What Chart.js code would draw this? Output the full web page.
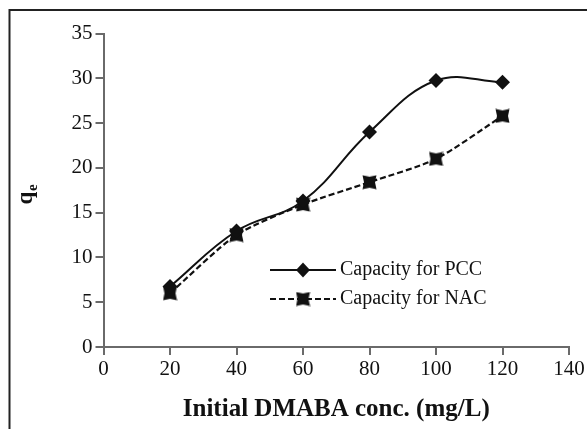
<!DOCTYPE html>
<html>
<head>
<meta charset="utf-8">
<script src="https://cdn.jsdelivr.net/npm/chart.js@4.4.1/dist/chart.umd.min.js"></script>
<style>
  html, body { margin: 0; padding: 0; background: #fff; }
  #wrap { position: relative; width: 587px; height: 429px; }
</style>
</head>
<body>
<div id="wrap"><canvas id="c"></canvas></div>
<script>
// ---- data ----
const concentrations = [20, 40, 60, 80, 100, 120];
const pccCapacity = [6.75, 12.95, 16.3, 24.0, 29.75, 29.55];
const nacCapacity = [6.0, 12.5, 15.9, 18.4, 21.0, 25.8];
const seriesNames = ['Capacity for PCC', 'Capacity for NAC'];
const xTitle = 'Initial DMABA conc. (mg/L)';
const yTitleMain = 'q';
const yTitleSub = 'e';

const serif = "'Liberation Serif', 'Times New Roman', serif";
const ink = '#111';
const axisGray = '#6a6a6a';

// bowtie-like square marker for NAC
function makeNacMarker(size) {
  const cv = document.createElement('canvas');
  cv.width = size; cv.height = size;
  const g = cv.getContext('2d');
  const s = size, n = 2;
  g.fillStyle = ink;
  g.beginPath();
  g.moveTo(0.5, 0.5);
  g.lineTo(s / 2, n);
  g.lineTo(s - 0.5, 0.5);
  g.lineTo(s - n, s / 2);
  g.lineTo(s - 0.5, s - 0.5);
  g.lineTo(s / 2, s - n);
  g.lineTo(0.5, s - 0.5);
  g.lineTo(n, s / 2);
  g.closePath();
  g.fill();
  return cv;
}
const nacMarker = makeNacMarker(15);

const toPoints = (xs, ys) => xs.map((x, i) => ({ x: x, y: ys[i] }));

const framePlugin = {
  id: 'frame',
  beforeDraw(chart) {
    const ctx = chart.ctx;
    ctx.save();
    ctx.strokeStyle = '#222';
    ctx.lineWidth = 2;
    ctx.beginPath();
    ctx.moveTo(9.5, 429);
    ctx.lineTo(9.5, 10);
    ctx.lineTo(587, 10);
    ctx.stroke();
    ctx.restore();
  }
};

const yTitlePlugin = {
  id: 'ytitle',
  afterDraw(chart) {
    const ctx = chart.ctx;
    ctx.save();
    ctx.translate(32, 198);
    ctx.rotate(-Math.PI / 2);
    ctx.fillStyle = ink;
    ctx.textBaseline = 'alphabetic';
    ctx.textAlign = 'center';
    ctx.font = 'bold 23px ' + serif;
    ctx.fillText(yTitleMain, 0, 0);
    ctx.textAlign = 'left';
    ctx.font = 'bold 15px ' + serif;
    ctx.fillText(yTitleSub, 7, 5);
    ctx.restore();
  }
};

const legendPlugin = {
  id: 'customLegend',
  afterDraw(chart) {
    const ctx = chart.ctx;
    const x0 = 270, x1 = 336, tx = 340;
    const rows = [
      { y: 270, dash: [], marker: 'diamond', label: seriesNames[0] },
      { y: 299, dash: [6, 3], marker: 'nac', label: seriesNames[1] }
    ];
    ctx.save();
    rows.forEach(r => {
      ctx.strokeStyle = ink;
      ctx.lineWidth = 2;
      ctx.setLineDash(r.dash);
      ctx.beginPath();
      ctx.moveTo(x0, r.y);
      ctx.lineTo(x1, r.y);
      ctx.stroke();
      ctx.setLineDash([]);
      const mx = (x0 + x1) / 2;
      ctx.fillStyle = ink;
      if (r.marker === 'diamond') {
        ctx.beginPath();
        ctx.moveTo(mx, r.y - 7.5);
        ctx.lineTo(mx + 7, r.y);
        ctx.lineTo(mx, r.y + 7.5);
        ctx.lineTo(mx - 7, r.y);
        ctx.closePath();
        ctx.fill();
      } else {
        ctx.drawImage(nacMarker, mx - nacMarker.width / 2, r.y - nacMarker.height / 2);
      }
      ctx.font = '20px ' + serif;
      ctx.textAlign = 'left';
      ctx.textBaseline = 'middle';
      ctx.fillText(r.label, tx, r.y);
    });
    ctx.restore();
  }
};

new Chart(document.getElementById('c'), {
  type: 'line',
  data: {
    datasets: [
      {
        label: seriesNames[0],
        data: toPoints(concentrations, pccCapacity),
        borderColor: ink,
        backgroundColor: ink,
        borderWidth: 2,
        pointStyle: 'rectRot',
        pointRadius: 7.5,
        pointBorderWidth: 0,
        tension: 0.4
      },
      {
        label: seriesNames[1],
        data: toPoints(concentrations, nacCapacity),
        borderColor: ink,
        backgroundColor: ink,
        borderWidth: 2.2,
        borderDash: [6, 3],
        pointStyle: nacMarker,
        pointRadius: 7.5,
        tension: 0.25
      }
    ]
  },
  options: {
    responsive: true,
    maintainAspectRatio: false,
    animation: false,
    devicePixelRatio: 1,
    layout: { padding: { left: 0, right: 18, top: 33.5, bottom: 0 } },
    plugins: { legend: { display: false }, tooltip: { enabled: false } },
    scales: {
      x: {
        type: 'linear',
        min: 0, max: 140,
        afterFit(s) { s.height = 82; },
        ticks: { stepSize: 20, color: ink, font: { family: serif, size: 21 }, padding: 2, maxRotation: 0 },
        grid: { display: true, drawOnChartArea: false, drawTicks: true, tickLength: 8, color: axisGray, lineWidth: 2 },
        border: { display: true, color: axisGray, width: 2 },
        title: { display: true, text: xTitle, color: ink, font: { family: serif, size: 25, weight: 'bold' }, padding: { top: 0, bottom: 4 } }
      },
      y: {
        min: 0, max: 35,
        afterFit(s) { s.width = 103.5; },
        ticks: { stepSize: 5, color: ink, font: { family: serif, size: 21 }, padding: 3 },
        grid: { display: true, drawOnChartArea: false, drawTicks: true, tickLength: 8, color: axisGray, lineWidth: 2 },
        border: { display: true, color: axisGray, width: 2 }
      }
    }
  },
  plugins: [framePlugin, yTitlePlugin, legendPlugin]
});
</script>
</body>
</html>
